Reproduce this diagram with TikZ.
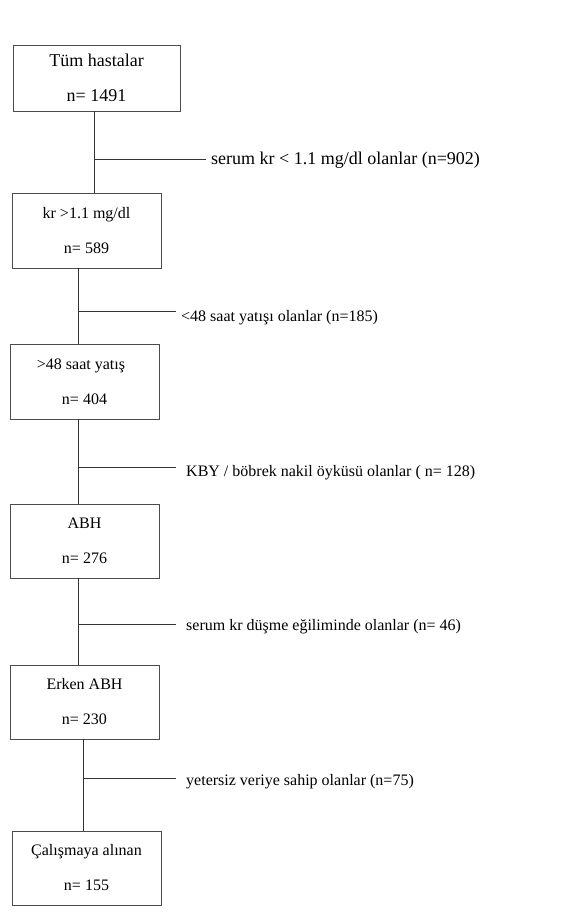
\documentclass[tikz,border=0pt]{standalone}
\usepackage{fontspec}
\setmainfont{Liberation Serif}
\begin{document}
\begin{tikzpicture}[x=1pt,y=-1pt,
  box/.style={draw=black!70, line width=0.9pt, rectangle, inner sep=0pt, align=center,
     font=\fontsize{16}{35}\selectfont, minimum width=149pt, minimum height=74pt},
  conn/.style={draw=black!80, line width=0.9pt},
  lbl/.style={anchor=base west, inner sep=0pt, font=\fontsize{16}{21}\selectfont}]
\useasboundingbox[fill=white] (0,0) rectangle (585,924);
% boxes
\node[box, minimum width=167pt, minimum height=66pt, font=\fontsize{18}{35}\selectfont] (b1) at (96.5,78) {Tüm hastalar\\n= 1491};
\node[box, minimum height=75pt] (b2) at (86.5,230.5) {kr >1.1 mg/dl\\n= 589};
\node[box, minimum height=75pt] (b3) at (84.5,381.5) {>48 saat yatış\hspace*{7pt}\\n= 404};
\node[box] (b4) at (84.5,541) {ABH\\n= 276};
\node[box] (b5) at (84.5,702) {Erken ABH\\n= 230};
\node[box] (b6) at (86.5,868) {Çalışmaya alınan\\n= 155};
% junctions and ends
\coordinate (j1) at (94,159);  \coordinate (e1) at (206,159);
\coordinate (j2) at (78,311);  \coordinate (e2) at (176,311);
\coordinate (j3) at (78,467);  \coordinate (e3) at (176,467);
\coordinate (j4) at (78,624);  \coordinate (e4) at (176,624);
\coordinate (j5) at (83,778);  \coordinate (e5) at (176,778);
% labels
\node[lbl, font=\fontsize{18}{21}\selectfont] (t1) at (211,164) {serum kr < 1.1 mg/dl olanlar (n=902)};
\node[lbl] (t2) at (181,321) {<48 saat yatışı olanlar (n=185)};
\node[lbl] (t3) at (186,476) {KBY / böbrek nakil öyküsü olanlar ( n= 128)};
\node[lbl] (t4) at (186,630) {serum kr düşme eğiliminde olanlar (n= 46)};
\node[lbl] (t5) at (186,785) {yetersiz veriye sahip olanlar (n=75)};
% connectors
\draw[conn] (b1.south -| j1) -- (b2.north -| j1);
\draw[conn] (j1) -- (e1);
\draw[conn] (b2.south -| j2) -- (b3.north -| j2);
\draw[conn] (j2) -- (e2);
\draw[conn] (b3.south -| j3) -- (b4.north -| j3);
\draw[conn] (j3) -- (e3);
\draw[conn] (b4.south -| j4) -- (b5.north -| j4);
\draw[conn] (j4) -- (e4);
\draw[conn] (b5.south -| j5) -- (b6.north -| j5);
\draw[conn] (j5) -- (e5);
\end{tikzpicture}
\end{document}
